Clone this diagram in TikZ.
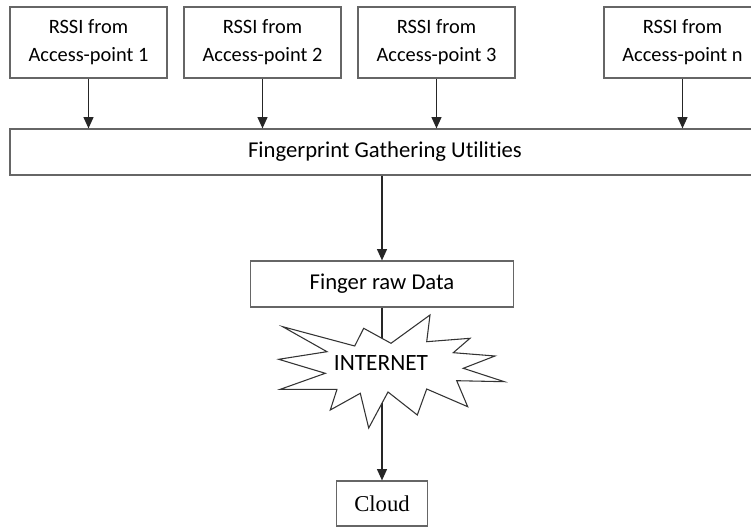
\documentclass[tikz,border=0pt]{standalone}
\usepackage{fontspec}
\setmainfont{Carlito}[Ligatures=NoCommon]
\newfontfamily\cloudfont{Liberation Serif}
\usetikzlibrary{arrows.meta}

\tikzset{
    box/.style={draw=black!60, line width=0.9pt, fill=white, inner sep=0pt, align=center,
        font=\fontsize{17}{21}\selectfont},
    apbox/.style={box, font=\fontsize{15.3}{21}\selectfont, minimum width=117.75pt, minimum height=53.25pt},
    link/.style={draw=black!85, line width=0.9pt, -{Triangle[width=7.5pt,length=8.5pt]}}
}

\begin{document}
\begin{tikzpicture}[x=0.75pt, y=-0.75pt]
    \useasboundingbox (0,0) rectangle (751,527);
    \clip (0,0) rectangle (751,527);
    % sources
    \node[apbox] (ap1) at (88.5,42.5) {RSSI from\\Access-point 1};
    \node[apbox] (ap2) at (262.5,42.5) {RSSI from\\Access-point 2};
    \node[apbox] (ap3) at (436.5,42.5) {RSSI from\\Access-point 3};
    \node[apbox] (apn) at (682.5,42.5) {RSSI from\\Access-point n};
    % gathering
    \node[box, minimum width=562.5pt, minimum height=34.5pt] (fgu) at (385,152) {Fingerprint Gathering Utilities};
    \node[box, minimum width=197.25pt, minimum height=34.5pt] (raw) at (382,284) {Finger raw Data};
    \node[box, font=\cloudfont\fontsize{17}{19}\selectfont, minimum width=68.25pt, minimum height=33.75pt] (cloud) at (382,503.5) {Cloud};

    \foreach \ap in {ap1,ap2,ap3,apn}
        \draw[link] (\ap.south) -- (\ap.south |- fgu.north);
    \draw[link] (raw.north |- fgu.south) -- (raw.north);
    \draw[link] (raw.south) -- (cloud.north);

    % internet burst
    \filldraw[draw=black!80, fill=white, line width=0.8pt]
        (282.7,326.7) -- (354.7,346) -- (363.7,328.3) -- (391,343.3) -- (430,315) -- (426.7,341.7)
        -- (470,338.3) -- (453.3,352.7) -- (495,356) -- (463.3,368.3) -- (504.3,381.7) -- (456.7,380.7)
        -- (467.7,406.7) -- (426.7,389) -- (417.3,415) -- (388,392) -- (368.7,428) -- (360.3,393.3)
        -- (330.3,410) -- (337,389.3) -- (280.3,389.3) -- (325.3,373.3) -- (278.7,359.3) -- (327,351.7) -- cycle;
    \node[font=\fontsize{17.5}{19}\selectfont] (net) at (381,363) {INTERNET};
\end{tikzpicture}
\end{document}
